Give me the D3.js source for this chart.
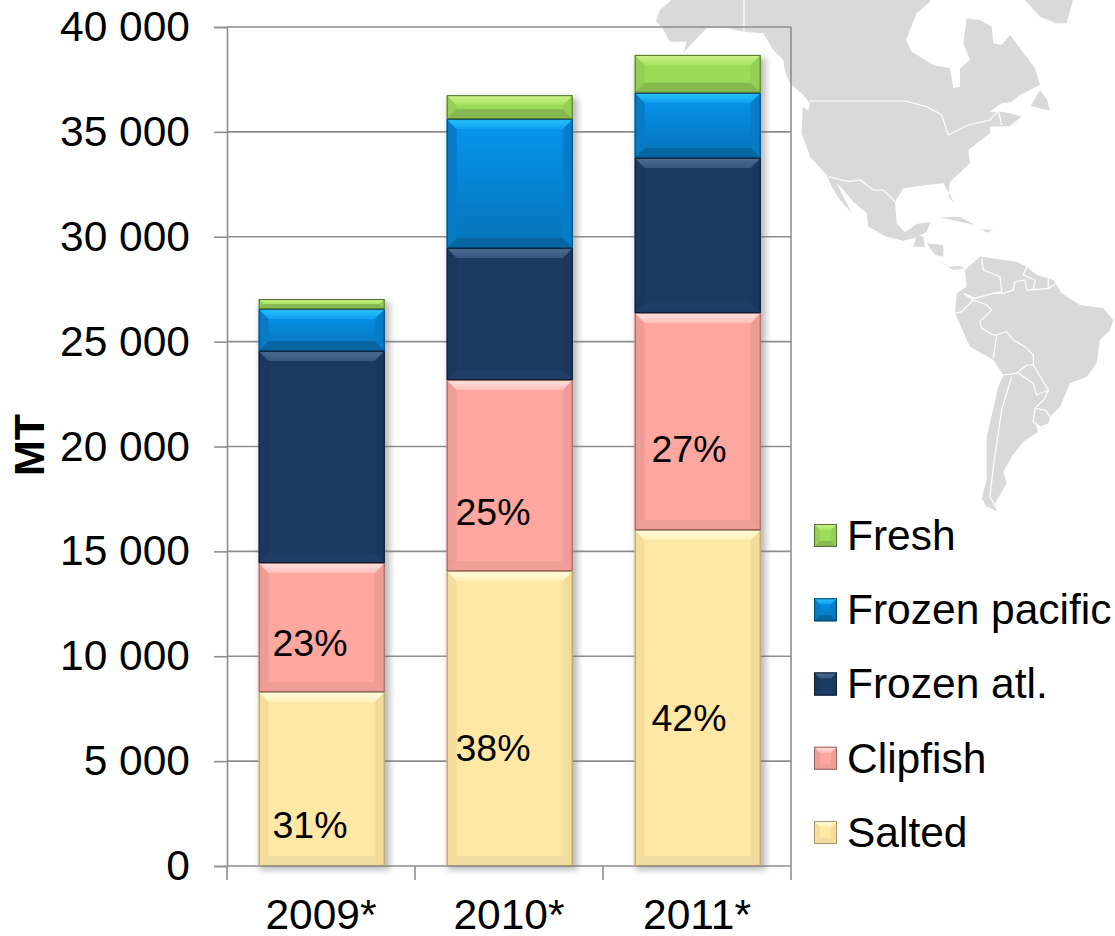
<!DOCTYPE html>
<html>
<head>
<meta charset="utf-8">
<script src="https://cdn.jsdelivr.net/npm/d3@7"></script>
<style>
html, body { margin: 0; padding: 0; background: #fff; overflow: hidden; }
text { font-family: "Liberation Sans", Arial, sans-serif; fill: #000; }
</style>
</head>
<body>
<script>
// values
var years = ['2009*', '2010*', '2011*'];
var seriesNames = ['Salted', 'Clipfish', 'Frozen atl.', 'Frozen pacific', 'Fresh'];
var salted = [8300, 14060, 16020];
var clipfish = [6150, 9110, 10350];
var frozenAtl = [10100, 6290, 7390];
var frozenPacific = [2000, 6150, 3100];
var fresh = [480, 1140, 1810];
var yTicks = [0, 5000, 10000, 15000, 20000, 25000, 30000, 35000, 40000];
var saltedPct = ['31%', '38%', '42%'];
var clipfishPct = ['23%', '25%', '27%'];

// where the percent labels sit (MT on the y axis, px off the bar centre)
var saltedLabelAt = [1950, 5620, 7050];
var clipfishLabelAt = [10640, 16890, 19870];
var labelShift = [-11, -16, -8];

var colors = [
    { base: '#ffe8a5', top: '#fffde0', top2: '#fff0b8', side: '#f6dc9a', bottom: '#f0dca0', edge: '#a8976a' },
    { base: '#fea6a0', top: '#ffe4df', top2: '#ffc0ba', side: '#f09c96', bottom: '#f09e98', edge: '#96625e' },
    { base: '#1b3a62', top: '#4d6c94', top2: '#38577f', side: '#1a375d', bottom: '#1e3e68', edge: '#0b1e33' },
    { base: '#0688dc', top: '#2cc4ff', top2: '#0fa0ee', side: '#067cc8', bottom: '#0566a2', edge: '#05446e' },
    { base: '#9cdb58', top: '#ccf488', top2: '#a8e364', side: '#94d054', bottom: '#88b850', edge: '#566e30' }
];

var W = 1115, H = 936;

var svg = d3.select('body').append('svg')
    .attr('width', W)
    .attr('height', H)
    .style('display', 'block');

var defs = svg.append('defs');
var blur = defs.append('filter').attr('id', 'shadow')
    .attr('x', '-10%').attr('y', '-10%').attr('width', '120%').attr('height', '120%');
blur.append('feGaussianBlur').attr('stdDeviation', 3);

var pacGrad = defs.append('linearGradient').attr('id', 'pacGrad')
    .attr('x1', 0).attr('x2', 0).attr('y1', 0).attr('y2', 1);
pacGrad.append('stop').attr('offset', '0%').attr('stop-color', '#0696f0');
pacGrad.append('stop').attr('offset', '100%').attr('stop-color', '#0672b8');

colors.forEach(function (c, i) {
    var g = defs.append('linearGradient').attr('id', 'topGrad' + i)
        .attr('x1', 0).attr('x2', 0).attr('y1', 0).attr('y2', 1);
    g.append('stop').attr('offset', '0%').attr('stop-color', c.top);
    g.append('stop').attr('offset', '100%').attr('stop-color', c.top2);
});

// ---- background map (3x crop coords at 640,0)
var land = [
    [[100, -5], [60, 30], [48, 62], [70, 90], [90, 125], [140, 125], [130, 160], [170, 115], [200, 85], [250, 82], [310, 95], [370, 100], [400, 150], [430, 180], [435, 215], [450, 250], [490, 285], [510, 310], [505, 332], [488, 320], [485, 400], [510, 470], [560, 525], [575, 560], [600, 600], [636, 640], [610, 590], [590, 550], [610, 570], [640, 605], [680, 640], [685, 680], [740, 710], [790, 722], [830, 712], [860, 695], [872, 665], [830, 672], [795, 697], [770, 670], [765, 605], [790, 565], [860, 555], [910, 550], [945, 612], [925, 590], [930, 545], [990, 490], [985, 450], [1050, 400], [1050, 380], [1110, 378], [1145, 350], [1110, 340], [1085, 335], [1050, 335], [1085, 310], [1115, 305], [1140, 285], [1200, 255], [1185, 205], [1140, 145], [1110, 105], [1085, 135], [1060, 130], [1055, 80], [1020, 60], [980, 55], [970, 130], [990, 180], [960, 205], [960, 260], [940, 265], [930, 205], [880, 195], [815, 155], [798, 120], [830, 40], [870, 5], [870, -5]],
    [[1150, -5], [1200, 50], [1250, 70], [1280, 70], [1300, -5]],
    [[1200, 270], [1172, 318], [1230, 332], [1222, 300]],
    [[900, 652], [960, 650], [1005, 675], [960, 665]],
    [[1025, 688], [1060, 690], [1040, 698]],
    [[830, 705], [850, 710], [855, 740], [820, 740]],
    [[860, 730], [910, 735], [910, 770], [885, 765], [870, 745]],
    [[890, 775], [925, 800], [960, 798], [975, 805], [940, 810], [915, 795]],
    [[1025, 770], [1055, 775], [1130, 785], [1160, 800], [1190, 825], [1240, 840], [1265, 880], [1320, 915], [1390, 925], [1420, 960], [1410, 990], [1380, 1020], [1370, 1090], [1340, 1130], [1290, 1150], [1260, 1220], [1230, 1250], [1225, 1270], [1200, 1280], [1185, 1270], [1195, 1295], [1150, 1325], [1115, 1370], [1090, 1415], [1100, 1450], [1065, 1510], [1075, 1535], [1040, 1520], [1025, 1495], [1040, 1440], [1040, 1310], [1075, 1160], [1090, 1125], [1060, 1080], [990, 1040], [945, 940], [950, 880], [980, 860], [975, 810], [1020, 770]]
];
var borders = [
    [[312, -5], [312, 95]],
    [[510, 303], [795, 303], [860, 320], [905, 345], [925, 405], [985, 375], [1050, 360], [1075, 332], [1085, 375]],
    [[565, 530], [625, 545], [660, 540], [700, 570], [730, 570], [765, 605]],
    [[1025, 775], [1030, 810], [1080, 830], [1085, 875], [1060, 880], [1005, 895], [970, 880], [1000, 900], [1040, 915], [1055, 930], [1020, 965], [1025, 985], [1060, 1005], [1070, 1005], [1060, 1075]],
    [[1060, 880], [1090, 880], [1120, 870], [1125, 845], [1155, 840], [1160, 870], [1225, 865], [1250, 850]],
    [[1160, 800], [1150, 825], [1185, 840], [1180, 870]],
    [[1225, 835], [1225, 865]],
    [[1070, 1005], [1100, 995], [1120, 1020], [1155, 1040], [1180, 1065], [1180, 1095]],
    [[1090, 1125], [1130, 1120], [1160, 1095], [1180, 1095], [1225, 1170], [1190, 1185], [1180, 1150], [1135, 1120]],
    [[1225, 1170], [1215, 1195], [1185, 1225], [1180, 1265], [1200, 1280]],
    [[1185, 1225], [1215, 1230], [1230, 1250]],
    [[1115, 1130], [1085, 1230], [1060, 1400], [1050, 1490], [1075, 1535]],
    [[945, 940], [965, 935], [1000, 900]]
];

var mapLine = d3.line()
    .x(function (d) { return 640 + d[0] / 3; })
    .y(function (d) { return d[1] / 3; });

var map = svg.append('g').attr('class', 'map');
map.selectAll('path.land').data(land).enter().append('path')
    .attr('class', 'land')
    .attr('d', function (d) { return mapLine(d) + 'Z'; })
    .attr('fill', '#d9d9d9');
map.selectAll('path.border').data(borders).enter().append('path')
    .attr('class', 'border')
    .attr('d', mapLine)
    .attr('fill', 'none')
    .attr('stroke', '#fff')
    .attr('stroke-width', 1.2);

// ---- scales
var y = d3.scaleLinear().domain([0, 40000]).range([866, 27]);
var x = d3.scaleBand().domain(years).range([227, 791]).paddingInner(0.33).paddingOuter(0.165);

var rows = years.map(function (yr, i) {
    return {
        year: yr,
        'Salted': salted[i],
        'Clipfish': clipfish[i],
        'Frozen atl.': frozenAtl[i],
        'Frozen pacific': frozenPacific[i],
        'Fresh': fresh[i]
    };
});
var stacked = d3.stack().keys(seriesNames)(rows);

// ---- grid and axes
var grid = svg.append('g').attr('class', 'grid');
grid.selectAll('line').data(yTicks).enter().append('line')
    .attr('x1', 227).attr('x2', 791)
    .attr('y1', function (d) { return y(d); })
    .attr('y2', function (d) { return y(d); })
    .attr('stroke', function (d) { return d === 40000 ? '#bdbdbd' : '#8e8e8e'; })
    .attr('stroke-width', 1.6);
grid.append('line')
    .attr('x1', 791).attr('x2', 791).attr('y1', y(40000)).attr('y2', y(0))
    .attr('stroke', '#bdbdbd').attr('stroke-width', 1.6);

function fmt(d) {
    return d3.format(',')(d).replace(/,/g, ' ');
}

var yAxis = svg.append('g')
    .attr('transform', 'translate(227,0)')
    .call(d3.axisLeft(y).tickValues(yTicks).tickFormat(fmt).tickSize(13).tickPadding(24));
yAxis.selectAll('text').style('font-size', '42.5px');

var xAxis = svg.append('g')
    .attr('transform', 'translate(0,866)')
    .call(d3.axisBottom(x).tickSize(0).tickPadding(33));
xAxis.selectAll('text').style('font-size', '42.5px');
xAxis.select('.domain').remove();

// category separators under the axis
var step = x.step();
svg.append('g').selectAll('line').data([0, 1, 2, 3]).enter().append('line')
    .attr('x1', function (d) { return 227 + d * step; })
    .attr('x2', function (d) { return 227 + d * step; })
    .attr('y1', 866).attr('y2', 880);

svg.selectAll('.domain, .tick line, svg > g > line')
    .attr('stroke', '#8e8e8e')
    .attr('stroke-width', 1.6);

// ---- bars
function bevel(g, x0, y0, x1, y1, s, size, fill) {
    var c = colors[s];
    var b = Math.min(size, (y1 - y0) / 2);
    var xi0 = x0 + b, xi1 = x1 - b, yi0 = y0 + b, yi1 = y1 - b;
    g.append('rect').attr('x', x0).attr('y', y0).attr('width', x1 - x0).attr('height', y1 - y0)
        .attr('fill', fill || c.base);
    var poly = function (pts, col) {
        g.append('polygon').attr('points', pts.join(' ')).attr('fill', col);
    };
    poly([[x0, y0], [xi0, yi0], [xi0, yi1], [x0, y1]], c.side);
    poly([[x1, y0], [xi1, yi0], [xi1, yi1], [x1, y1]], c.side);
    poly([[x0, y1], [x1, y1], [xi1, yi1], [xi0, yi1]], c.bottom);
    poly([[x0, y0], [x1, y0], [xi1, yi0], [xi0, yi0]], 'url(#topGrad' + s + ')');
    g.append('rect').attr('x', x0 + 0.5).attr('y', y0 + 0.5)
        .attr('width', x1 - x0 - 1).attr('height', y1 - y0 - 1)
        .attr('fill', 'none').attr('stroke', c.edge).attr('stroke-width', 1);
}

var bars = svg.append('g').attr('class', 'bars').attr('transform', 'translate(0.7,0)');

// soft shadow behind each whole column
bars.selectAll('rect.shadow').data(rows).enter().append('rect')
    .attr('class', 'shadow')
    .attr('x', function (d) { return x(d.year) + 1; })
    .attr('y', function (d, i) { return y(stacked[4][i][1]) + 3; })
    .attr('width', x.bandwidth() + 4)
    .attr('height', function (d, i) { return y(0) - y(stacked[4][i][1]) + 1; })
    .attr('fill', '#777')
    .attr('opacity', 0.5)
    .attr('filter', 'url(#shadow)');

stacked.forEach(function (layer, s) {
    layer.forEach(function (d, i) {
        var g = bars.append('g');
        bevel(g, x(years[i]), y(d[1]), x(years[i]) + x.bandwidth(), y(d[0]), s, 10,
            s === 3 ? 'url(#pacGrad)' : null);
    });
});

// ---- percent labels
var labels = svg.append('g').attr('class', 'labels');
function addLabels(pcts, at) {
    labels.selectAll(null).data(pcts).enter().append('text')
        .attr('x', function (d, i) { return x(years[i]) + x.bandwidth() / 2 + labelShift[i]; })
        .attr('y', function (d, i) { return y(at[i]); })
        .attr('dy', '0.35em')
        .attr('text-anchor', 'middle')
        .style('font-size', '37.5px')
        .text(function (d) { return d; });
}
addLabels(saltedPct, saltedLabelAt);
addLabels(clipfishPct, clipfishLabelAt);

// ---- y title
svg.append('text')
    .attr('transform', 'translate(44,445) rotate(-90)')
    .attr('text-anchor', 'middle')
    .style('font-size', '43px')
    .style('font-weight', 'bold')
    .text('MT');

// ---- legend, top to bottom is the reverse of the stack
var legendY = d3.scalePoint().domain(seriesNames.slice().reverse()).range([535, 832]);
var legend = svg.append('g').attr('class', 'legend');
seriesNames.forEach(function (name, s) {
    var cy = legendY(name);
    var g = legend.append('g');
    bevel(g, 814, cy - 11, 837, cy + 12, s, 6, s === 3 ? 'url(#pacGrad)' : null);
    legend.append('text')
        .attr('x', 847)
        .attr('y', cy)
        .attr('dy', '0.35em')
        .style('font-size', '42.5px')
        .text(name);
});
</script>
</body>
</html>
